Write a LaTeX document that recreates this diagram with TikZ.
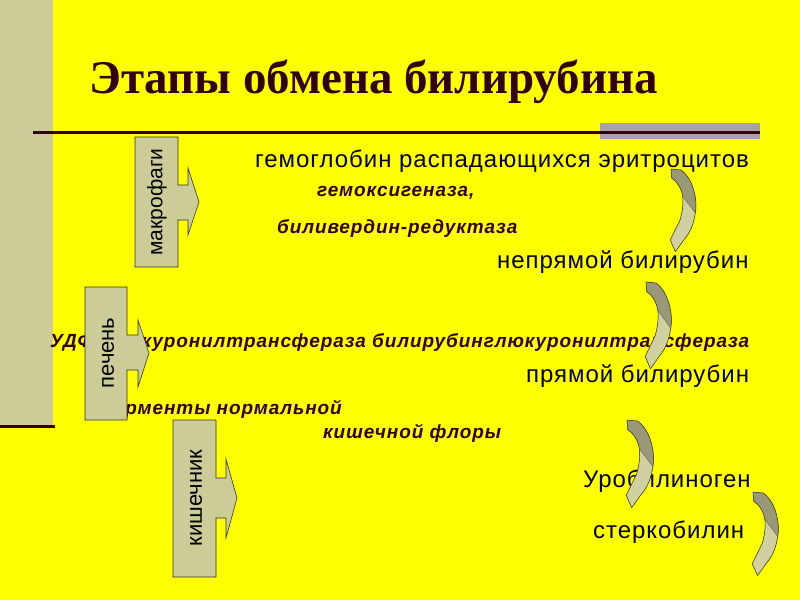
\documentclass[tikz,border=0pt]{standalone}
\usepackage{fontspec}
\setmainfont{Liberation Serif}
\newfontfamily\arial{Liberation Sans}
\newfontfamily\arialsp[LetterSpace=4]{Liberation Sans}
\newfontfamily\arialbi[LetterSpace=4.7]{Liberation Sans}
\definecolor{bg}{HTML}{FFFF00}
\definecolor{khaki}{HTML}{CCCC99}
\definecolor{maroon}{HTML}{330011}
\definecolor{darkband}{HTML}{99997A}
\definecolor{lightband}{HTML}{D0D0A2}
\definecolor{topgray}{HTML}{A8A2A8}
\newcommand\curvedarrow[3]{%
\begin{scope}[shift={(#1)},xscale=#2,yscale=#3]
\fill[lightband] (0,0) -- (9,1) .. controls (16,6) and (21.5,18) .. (22.6,33) .. controls (22.9,37) and (22.6,41) .. (22.1,44) .. controls (20.5,56) and (17,64) .. (12.3,70) -- (4,82.7) -- (-0.7,71) -- (8.3,50.7) .. controls (10.5,42) and (11.5,33) .. (10.5,27) .. controls (9.5,19) and (5,12) .. (0.5,9) -- cycle;
\fill[darkband] (0,0) -- (9,1) .. controls (16,6) and (21.5,18) .. (22.6,33) .. controls (22.9,37) and (22.6,41) .. (22.1,44) -- (10.5,27) .. controls (9.5,19) and (5,12) .. (0.5,9) -- cycle;
\draw[black!85,line width=0.5pt,line join=round] (0,0) -- (9,1) .. controls (16,6) and (21.5,18) .. (22.6,33) .. controls (22.9,37) and (22.6,41) .. (22.1,44) .. controls (20.5,56) and (17,64) .. (12.3,70) -- (4,82.7) -- (-0.7,71) -- (8.3,50.7) .. controls (10.5,42) and (11.5,33) .. (10.5,27) .. controls (9.5,19) and (5,12) .. (0.5,9) -- cycle;
\draw[black!60,line width=0.4pt] (10.5,27) -- (22.1,44);
\end{scope}}
\begin{document}
\begin{tikzpicture}[x=1pt,y=-1pt,
  organ/.style={fill=khaki,draw=black!80,line width=0.6pt},
  organtext/.style={font=\arial\fontsize{22}{24}\selectfont,text=black,inner sep=0pt,rotate=90},
  plain/.style={font=\arialsp\fontsize{24}{26}\selectfont,text=black,inner sep=0pt},
  enz/.style={font=\arialbi\bfseries\itshape\fontsize{19}{22}\selectfont,text=maroon,inner sep=0pt},
  rule/.style={draw=maroon,line width=3pt}]
\useasboundingbox (0,0) rectangle (800,600);
\fill[bg] (0,0) rectangle (800,600);
\fill[khaki] (0,0) rectangle (52.5,426);
\fill[topgray] (600,123) rectangle (760,139);
\coordinate (r1a) at (33,132);
\coordinate (r1b) at (760,132);
\draw[rule] (r1a) -- (r1b);
\coordinate (r2a) at (0,426.5);
\coordinate (r2b) at (55,426.5);
\draw[rule] (r2a) -- (r2b);
\node[anchor=base west,inner sep=0pt,font=\bfseries\fontsize{47}{50}\selectfont,text=maroon] (title) at (89,93) {Этапы обмена билирубина};
% texts
\node[plain,anchor=base west] (gemo) at (255,167) {гемоглобин распадающихся эритроцитов};
\node[enz,anchor=base west] (hemox) at (317,196) {гемоксигеназа,};
\node[enz,anchor=base west] (biliv) at (277,233) {биливердин-редуктаза};
\node[plain,anchor=base west] (nepr) at (497,268) {непрямой билирубин};
\node[enz,anchor=base west] (udf) at (50,347) {УДФ-глюкуронилтрансфераза билирубинглюкуронилтрансфераза};
\node[plain,anchor=base west] (pryam) at (526,382) {прямой билирубин};
\node[enz,anchor=base east] (ferm) at (342,414) {Ферменты нормальной};
\node[enz,anchor=base west] (kish) at (323,438) {кишечной флоры};
\node[plain,anchor=base west] (urob) at (583,487) {Уробилиноген};
\node[plain,anchor=base west] (sterk) at (593,538) {стеркобилин};
% organ boxes
\draw[organ] (135,137) -- (178,137) -- (178,185) -- (188,185) -- (188,168) -- (199,202) -- (188,235) -- (188,220) -- (178,220) -- (178,267) -- (135,267) -- cycle;
\node[organtext,font=\arial\fontsize{21}{23}\selectfont] (makro) at (157,202) {макрофаги};
\draw[organ] (85,287) -- (127,287) -- (127,335) -- (138,335) -- (138,320) -- (149,353) -- (138,387) -- (138,370) -- (127,370) -- (127,420) -- (85,420) -- cycle;
\node[organtext] (liver) at (108,353) {печень};
\draw[organ] (173,420) -- (216,420) -- (216,478) -- (226,478) -- (226,459) -- (237,498) -- (226,538) -- (226,518) -- (216,518) -- (216,577) -- (173,577) -- cycle;
\node[organtext] (gut) at (196,498) {кишечник};
% curved arrows
\curvedarrow{671,169}{1.1}{1}
\curvedarrow{646,282}{1.12}{1.05}
\curvedarrow{627,420}{1.17}{1.06}
\curvedarrow{753,492}{1.12}{1.01}
\end{tikzpicture}
\end{document}
